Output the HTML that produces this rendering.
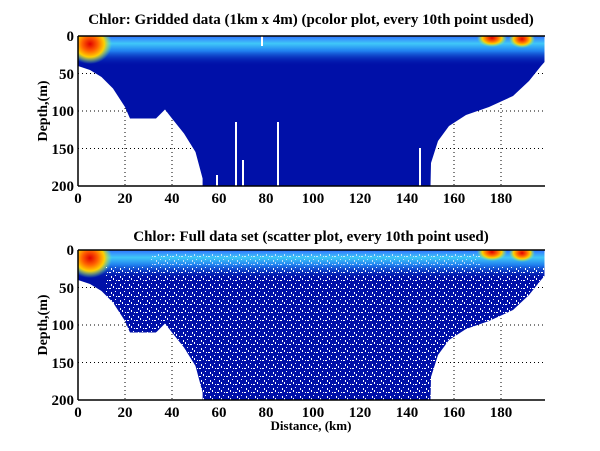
<!DOCTYPE html>
<html><head><style>
html,body{margin:0;padding:0;background:#fff;width:600px;height:451px;overflow:hidden}
text{font-family:"Liberation Serif",serif;font-weight:bold;fill:#000}
</style></head><body>
<svg width="600" height="451" xmlns="http://www.w3.org/2000/svg">
<defs>
<polygon id="shp" points="78,36 544.5,36 544.5,62 541,66 529,81 513,96 489,107 466,115 449,126 438,141 431,163 430.5,186 202.6,186 202.6,178.5 195.5,152 184,133.5 172,118.5 165,109.5 156,118.5 130,118.5 125,107 113,88.5 101.5,77 90,70 78,66"/>
<clipPath id="cp"><use href="#shp"/></clipPath>
<linearGradient id="surf" x1="0" y1="0" x2="0" y2="1">
<stop offset="0" stop-color="#3070ff"/><stop offset="0.25" stop-color="#40c8f8"/><stop offset="0.5" stop-color="#2080f0"/><stop offset="1" stop-color="#0010a8" stop-opacity="0"/>
</linearGradient>
<radialGradient id="red"><stop offset="0" stop-color="#e00000"/><stop offset="0.35" stop-color="#ff6000"/><stop offset="0.65" stop-color="#ffd000"/><stop offset="1" stop-color="#80ff80" stop-opacity="0"/></radialGradient>
<pattern id="dots" width="9" height="8" patternUnits="userSpaceOnUse">
<rect x="1" y="2" width="2" height="1" fill="#fff"/><rect x="5" y="0" width="1" height="2" fill="#fff"/>
<rect x="7" y="5" width="1" height="1" fill="#fff"/><rect x="3" y="6" width="1" height="2" fill="#fff"/>
<rect x="8" y="2" width="1" height="1" fill="#fff"/>
</pattern>
<g id="grid" stroke="#000" stroke-width="1" stroke-dasharray="1,3">
<line x1="125" y1="36" x2="125" y2="186"/><line x1="172" y1="36" x2="172" y2="186"/><line x1="219" y1="36" x2="219" y2="186"/><line x1="266" y1="36" x2="266" y2="186"/><line x1="313" y1="36" x2="313" y2="186"/><line x1="360" y1="36" x2="360" y2="186"/><line x1="407" y1="36" x2="407" y2="186"/><line x1="454" y1="36" x2="454" y2="186"/><line x1="501" y1="36" x2="501" y2="186"/>
<line x1="78" y1="73.5" x2="545" y2="73.5"/><line x1="78" y1="111" x2="545" y2="111"/><line x1="78" y1="148.5" x2="545" y2="148.5"/>
</g>
<g id="data">
<use href="#shp" fill="#0010a8"/>
<g clip-path="url(#cp)">
<rect x="78" y="36" width="467" height="30" fill="url(#surf)"/>
<ellipse cx="90" cy="44" rx="22" ry="20" fill="url(#red)"/>
<ellipse cx="492" cy="38" rx="15" ry="9" fill="url(#red)"/>
<ellipse cx="522" cy="39" rx="13" ry="9" fill="url(#red)"/>
</g>
</g>
<g id="axes" stroke="#000" stroke-width="1.5" fill="none">
<line x1="78" y1="36" x2="545" y2="36"/><line x1="78" y1="36" x2="78" y2="186"/><line x1="78" y1="186" x2="545" y2="186"/>
</g>
<g id="ticks" font-size="15">
<text x="78" y="203" text-anchor="middle">0</text><text x="125" y="203" text-anchor="middle">20</text><text x="172" y="203" text-anchor="middle">40</text><text x="219" y="203" text-anchor="middle">60</text><text x="266" y="203" text-anchor="middle">80</text><text x="313" y="203" text-anchor="middle">100</text><text x="360" y="203" text-anchor="middle">120</text><text x="407" y="203" text-anchor="middle">140</text><text x="454" y="203" text-anchor="middle">160</text><text x="501" y="203" text-anchor="middle">180</text>
<text x="74" y="41" text-anchor="end">0</text><text x="74" y="79" text-anchor="end">50</text><text x="74" y="116" text-anchor="end">100</text><text x="74" y="154" text-anchor="end">150</text><text x="74" y="191" text-anchor="end">200</text>
<text transform="translate(47,111) rotate(-90)" text-anchor="middle" font-size="14">Depth,(m)</text>
</g>
</defs>

<use href="#grid"/>
<use href="#data"/>
<g fill="#fff">
<rect x="216" y="175" width="2" height="11"/><rect x="235" y="122" width="2" height="64"/><rect x="242" y="160" width="2" height="26"/><rect x="277" y="122" width="2" height="64"/><rect x="261" y="36" width="2" height="10"/><rect x="419" y="148" width="2" height="38"/>
</g>
<use href="#axes"/>
<use href="#ticks"/>
<text x="311" y="24" text-anchor="middle" font-size="15">Chlor: Gridded data (1km x 4m) (pcolor plot, every 10th point usded)</text>

<g transform="translate(0,214)">
<use href="#grid"/>
<use href="#data"/>
<g clip-path="url(#cp)"><rect x="105" y="52" width="440" height="140" fill="url(#dots)"/><rect x="150" y="40" width="330" height="14" fill="url(#dots)" opacity="0.7"/></g>
<use href="#axes"/>
<use href="#ticks"/>
</g>
<text x="311" y="241" text-anchor="middle" font-size="15">Chlor: Full data set (scatter plot, every 10th point used)</text>
<text x="311" y="430" text-anchor="middle" font-size="13">Distance, (km)</text>
</svg>
</body></html>
